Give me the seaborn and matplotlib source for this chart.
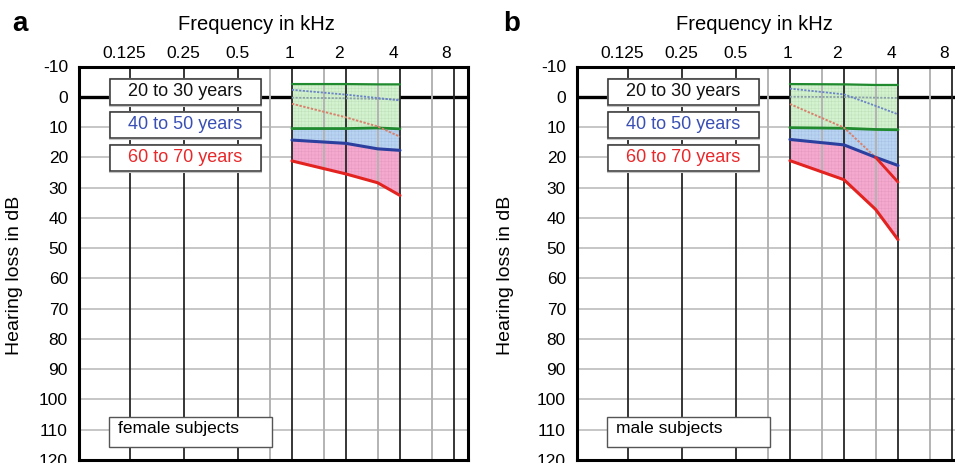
import matplotlib
matplotlib.use("Agg")
import matplotlib.pyplot as plt
import matplotlib.transforms as mtransforms
from matplotlib.patches import Rectangle
from matplotlib.ticker import NullLocator
import seaborn as sns

# Audiometric test frequencies (kHz) at which the age-group bands are given
freqs = [1, 2, 3, 4]

# Female subjects: hearing loss in dB (best / worst edge of each age band)
f_young_best = [-4.2, -4.2, -4.1, -4.1]
f_young_median = [0.3, 0.5, 0.7, 0.9]
f_young_worst = [10.5, 10.5, 10.3, 10.6]
f_mid_best = [-2.3, -0.7, 0.4, 1.2]
f_mid_worst = [14.3, 15.4, 17.2, 17.7]
f_old_best = [2.3, 6.8, 9.8, 13.2]
f_old_worst = [21.2, 25.5, 28.4, 32.6]

# Male subjects
m_young_best = [-4.2, -4.1, -3.9, -3.9]
m_young_median = [0.0, 0.1, 0.3, 0.4]
m_young_worst = [10.2, 10.4, 10.8, 10.9]
m_mid_best = [-2.7, -0.8, 3.0, 5.8]
m_mid_worst = [14.1, 15.9, 20.0, 22.7]
m_old_best = [2.4, 10.2, 20.0, 28.2]
m_old_worst = [21.1, 27.4, 37.2, 47.2]

# Axis annotation
freq_ticks = [0.125, 0.25, 0.5, 1, 2, 4, 8]
freq_labels = ["0.125", "0.25", "0.5", "1", "2", "4", "8"]
freq_half = [0.75, 1.5, 3, 6]
db_ticks = list(range(-10, 121, 10))
age_groups = ["20 to 30 years", "40 to 50 years", "60 to 70 years"]
subjects = ["female subjects", "male subjects"]
panel_letters = ["a", "b"]

GREEN, BLUE, RED = "#1f8a2e", "#2b3f9e", "#e3231f"
GREEN_FILL, BLUE_FILL, PINK_FILL = "#d3f2cf", "#b9d3f2", "#f5a9cf"
GREEN_HATCH, BLUE_HATCH, PINK_HATCH = "#bfe0ba", "#a5c2e4", "#e59abf"
AGE_TEXT = ["#111111", "#3a4fb3", "#e8282a"]

sns.set_theme(style="white")
plt.rcParams["font.family"] = ["Liberation Sans", "DejaVu Sans"]
plt.rcParams["hatch.linewidth"] = 0.35

fig = plt.figure(figsize=(9.55, 4.63), dpi=100)
W, H = 955.0, 463.0


def add_panel(left_px, young_best, young_median, young_worst, mid_best,
              mid_worst, old_best, old_worst, subject, letter, letter_x,
              ylabel_x):
    ax = fig.add_axes([left_px / W, 3 / H, 389 / W, 393.5 / H])
    ax.set_xscale("log", base=2)
    ax.set_xlim(0.0651, 9.57)
    ax.set_ylim(120, -10)

    # Background grid
    for v in db_ticks:
        ax.axhline(v, color="#c6c6c6", lw=1.4, zorder=0.5)
    ax.axhline(0, color="black", lw=2.4, zorder=0.6)

    # Age bands
    ax.fill_between(freqs, young_best, young_worst, facecolor=GREEN_FILL,
                    edgecolor=GREEN_HATCH, hatch="+++++", lw=0, zorder=1)
    ax.fill_between(freqs, young_worst, mid_worst, facecolor=BLUE_FILL,
                    edgecolor=BLUE_HATCH, hatch="+++++", lw=0, zorder=1)
    ax.fill_between(freqs, mid_worst, old_worst, facecolor=PINK_FILL,
                    edgecolor=PINK_HATCH, hatch="+++++", lw=0, zorder=1)

    for f in freq_half:
        ax.axvline(f, color="#b3b3b3", lw=1.4, zorder=2)
    for f in freq_ticks:
        ax.axvline(f, color="#262626", lw=1.3, zorder=2)

    # Band edges
    dots = (0, (1.2, 0.8))
    sns.lineplot(x=freqs, y=young_best, ax=ax, color=GREEN, lw=1.6, zorder=3)
    sns.lineplot(x=freqs, y=young_worst, ax=ax, color=GREEN, lw=2.0, zorder=3)
    sns.lineplot(x=freqs, y=young_median, ax=ax, color="#8aa0a8", lw=1.3,
                 linestyle=dots, zorder=3)
    sns.lineplot(x=freqs, y=mid_best, ax=ax, color="#6a83c6", lw=1.3,
                 linestyle=dots, zorder=3)
    sns.lineplot(x=freqs, y=old_best, ax=ax, color="#d8806c", lw=1.4,
                 linestyle=dots, zorder=3)
    # where the best edge of the oldest band lies below the 40-50 band it is drawn solid
    for i in range(len(freqs) - 1):
        if old_best[i] >= mid_worst[i] and old_best[i + 1] >= mid_worst[i + 1]:
            sns.lineplot(x=freqs[i:i + 2], y=old_best[i:i + 2], ax=ax,
                         color=RED, lw=2.0, zorder=3.5)
    sns.lineplot(x=freqs, y=mid_worst, ax=ax, color=BLUE, lw=2.2, zorder=3.2)
    sns.lineplot(x=freqs, y=old_worst, ax=ax, color=RED, lw=2.2, zorder=3.2)

    # Frame
    for s in ax.spines.values():
        s.set_visible(True)
        s.set_color("black")
        s.set_linewidth(2.2)
        s.set_zorder(6)

    ax.xaxis.set_minor_locator(NullLocator())
    ax.set_xticks(freq_ticks)
    ax.set_xticklabels(freq_labels)
    ax.tick_params(axis="x", top=True, bottom=False, labeltop=True,
                   labelbottom=False, length=0, pad=4, labelsize=12.5,
                   colors="black")
    shifts = [-6, -1, 0, -2, -7, -7, -8]
    for lab, dx in zip(ax.get_xticklabels(), shifts):
        lab.set_transform(lab.get_transform() +
                          mtransforms.ScaledTranslation(dx / 100, 0, fig.dpi_scale_trans))
    ax.set_yticks(db_ticks)
    ax.set_yticklabels([str(v) for v in db_ticks])
    ax.tick_params(axis="y", left=True, length=0, pad=8, labelsize=12.5,
                   colors="black")
    ax.grid(False)

    ax.text(0.455, 1.106, "Frequency in kHz", transform=ax.transAxes,
            ha="center", va="center", fontsize=14.5, color="black")
    ax.set_ylabel("Hearing loss in dB", fontsize=14, color="black")
    ax.yaxis.set_label_coords(ylabel_x, 0.47)

    # Age group boxes
    box_tops = [0.973, 0.889, 0.805]
    for top, name, c in zip(box_tops, age_groups, AGE_TEXT):
        ax.add_patch(Rectangle((0.077, top - 0.073), 0.392, 0.071,
                               transform=ax.transAxes, facecolor="white",
                               edgecolor="#c4c4c4", lw=0.8, zorder=4.9))
        ax.add_patch(Rectangle((0.079, top - 0.071), 0.388, 0.067,
                               transform=ax.transAxes, facecolor="white",
                               edgecolor="#333333", lw=1.1, zorder=5))
        ax.text(0.272, top - 0.036, name, transform=ax.transAxes,
                ha="center", va="center", fontsize=13, color=c, zorder=6)

    ax.add_patch(Rectangle((0.077, 0.034), 0.42, 0.076,
                           transform=ax.transAxes, facecolor="white",
                           edgecolor="#555555", lw=1.0, zorder=5))
    ax.text(0.1, 0.079, subject, transform=ax.transAxes, ha="left",
            va="center", fontsize=12.5, color="black", zorder=6)

    fig.text(letter_x / W, 1 - 24 / H, letter, fontsize=20, fontweight="bold",
             ha="center", va="center", color="black")
    return ax


add_panel(79, f_young_best, f_young_median, f_young_worst, f_mid_best,
          f_mid_worst, f_old_best, f_old_worst, subjects[0], panel_letters[0],
          20, -0.145)
add_panel(577, m_young_best, m_young_median, m_young_worst, m_mid_best,
          m_mid_worst, m_old_best, m_old_worst, subjects[1], panel_letters[1],
          512, -0.163)

fig.savefig("out.png", dpi=100)
